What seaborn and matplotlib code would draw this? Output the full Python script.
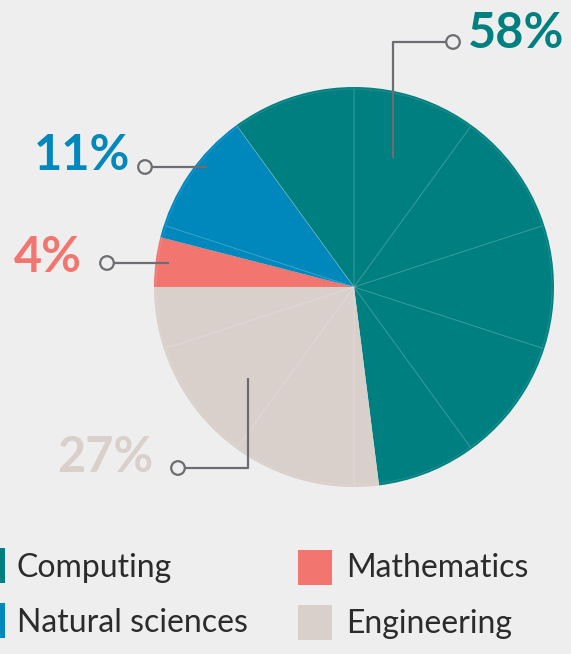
import matplotlib
matplotlib.use("Agg")
import matplotlib.pyplot as plt
from matplotlib.patches import Rectangle, Circle
import seaborn as sns

# data (clockwise from 9 o'clock)
fields = ["Mathematics", "Natural sciences", "Computing", "Engineering"]
shares = [4, 11, 58, 27]
labels = ["4%", "11%", "58%", "27%"]
colors = ["#f2756f", "#0088bd", "#007f80", "#d9cfcb"]

legend_order = ["Computing", "Natural sciences", "Mathematics", "Engineering"]

BG = "#eeeeee"
LINE = "#6c6c72"
TXT = "#2b2b2b"

sns.set_theme(style="white")
plt.rcParams["font.family"] = ["Lato", "DejaVu Sans"]

W, H = 571, 654
fig = plt.figure(figsize=(W / 100, H / 100), dpi=100, facecolor=BG)

# pie axes: centre (354, 287) px, radius 200 px
cx, cy, r = 354, 287, 200
ax = fig.add_axes([(cx - r) / W, (H - cy - r) / H, 2 * r / W, 2 * r / H])
ax.set_facecolor("none")
ax.axis("off")

ax.pie(shares, colors=colors, startangle=180, counterclock=False,
       wedgeprops=dict(linewidth=0), radius=1)
# faint 10 % guide lines
ax.pie([1] * 10, colors=["none"] * 10, startangle=90, radius=0.99,
       wedgeprops=dict(linewidth=0.7, edgecolor=(1, 1, 1, 0.12), fill=False))
ax.set_xlim(-1, 1)
ax.set_ylim(-1, 1)
ax.set_aspect("equal")


def px(x, y):
    return ((x - cx) / r, (cy - y) / r)


def callout(pts, text, color, tx, ty, ha):
    xs = [p[0] for p in pts]
    ys = [p[1] for p in pts]
    ax.plot(xs, ys, color=LINE, lw=1.6, solid_capstyle="butt", clip_on=False, zorder=5)
    ax.add_patch(Circle(pts[-1], 0.034, facecolor=BG, edgecolor=LINE, lw=1.6,
                        zorder=6, clip_on=False))
    ax.text(tx, ty, text, color=color, fontsize=35, fontweight="bold",
            ha=ha, va="center", clip_on=False)


callout([px(393, 158), px(393, 42), px(453, 42)], labels[2], colors[2],
        *px(468, 33), "left")
callout([px(207, 167), px(145, 167)], labels[1], colors[1], *px(130, 155), "right")
callout([px(169, 263), px(107, 263)], labels[0], colors[0], *px(82, 257), "right")
callout([px(248, 378), px(248, 468), px(178, 468)], labels[3], colors[3],
        *px(153, 458), "right")

# legend
leg = [
    (legend_order[0], colors[2], -29, 548, 17, 568),
    (legend_order[1], colors[1], -29, 603, 17, 623),
    (legend_order[2], colors[0], 298, 550, 346, 568),
    (legend_order[3], colors[3], 298, 605, 346, 624),
]
for name, c, x0, y0, tx, ty in leg:
    fig.add_artist(Rectangle((x0 / W, (H - y0 - 35) / H), 34 / W, 35 / H,
                             facecolor=c, edgecolor="none", transform=fig.transFigure))
    fig.text(tx / W, (H - ty) / H, name, color=TXT, fontsize=23,
             ha="left", va="center")

fig.savefig("out.png", dpi=100, facecolor=BG)
